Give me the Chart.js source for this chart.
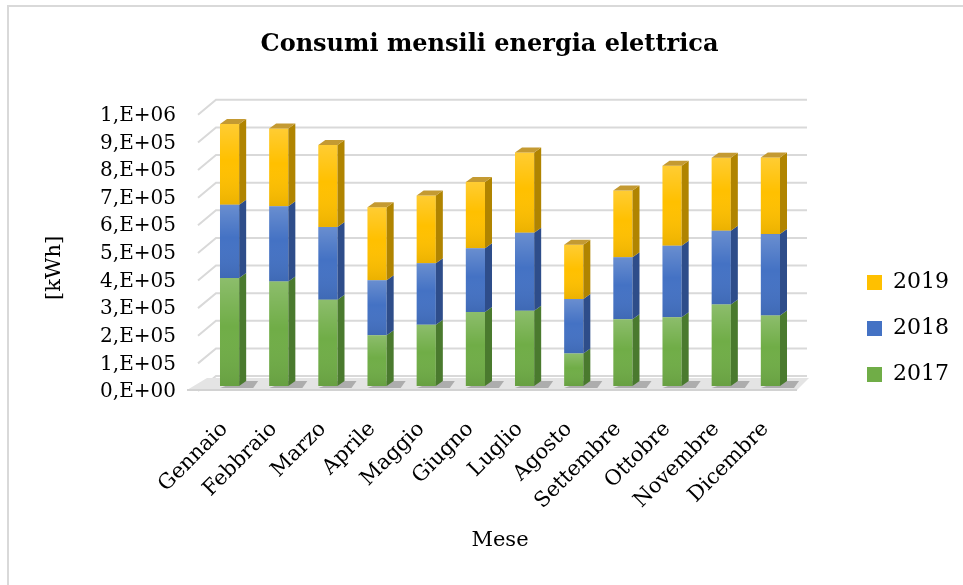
<!DOCTYPE html>
<html>
<head>
<meta charset="utf-8">
<script src="https://cdn.jsdelivr.net/npm/chart.js@4"></script>
<style>
  body { margin: 0; background: #fff; }
  canvas { display: block; }
</style>
</head>
<body>
<canvas id="chart" width="963" height="585"></canvas>
<script>
const mesi = ["Gennaio", "Febbraio", "Marzo", "Aprile", "Maggio", "Giugno",
  "Luglio", "Agosto", "Settembre", "Ottobre", "Novembre", "Dicembre"];

const kwh2017 = [391000, 378000, 312000, 184000, 222000, 268000, 272000, 118000, 242000, 249000, 295000, 255000];
const kwh2018 = [265000, 273000, 264000, 199000, 222000, 231000, 283000, 197000, 224000, 259000, 267000, 295000];
const kwh2019 = [293000, 281000, 297000, 264000, 246000, 240000, 290000, 196000, 242000, 289000, 264000, 277000];

const yTickLabels = ["0,E+00", "1,E+05", "2,E+05", "3,E+05", "4,E+05", "5,E+05",
  "6,E+05", "7,E+05", "8,E+05", "9,E+05", "1,E+06"];

const serif = "'DejaVu Serif', serif";
const DX = 7, DY = -5;

const sideColors = ["#4a7a2e", "#2e4d8a", "#b08400"];
const topColor = "#c49a32";

// back wall, left wall and floor, like the excel 3d look
const wallPlugin = {
  id: "wall",
  beforeDatasetsDraw(chart) {
    const ctx = chart.ctx;
    const y = chart.scales.y;
    const { left, right, bottom } = chart.chartArea;
    ctx.save();
    ctx.strokeStyle = "#d9d9d9";
    ctx.lineWidth = 2;
    y.ticks.forEach(t => {
      const py = y.getPixelForValue(t.value);
      ctx.beginPath();
      ctx.moveTo(left - 7, py + 5);
      ctx.lineTo(left + 11, py - 10);
      ctx.lineTo(right + 12, py - 10);
      ctx.stroke();
    });
    // floor
    ctx.fillStyle = "#e4e4e4";
    ctx.beginPath();
    ctx.moveTo(left - 18, bottom + 4);
    ctx.lineTo(right + 2, bottom + 4);
    ctx.lineTo(right + 14, bottom - 8);
    ctx.lineTo(left + 2, bottom - 8);
    ctx.closePath();
    ctx.fill();
    ctx.strokeStyle = "#d2d2d2";
    ctx.lineWidth = 2;
    ctx.beginPath();
    ctx.moveTo(left - 18, bottom + 4);
    ctx.lineTo(right + 2, bottom + 4);
    ctx.stroke();
    // shadows under the bars
    const meta = chart.getDatasetMeta(0);
    ctx.fillStyle = "rgba(90,90,90,0.4)";
    meta.data.forEach(bar => {
      const r = bar.x + bar.width / 2;
      ctx.beginPath();
      ctx.moveTo(bar.x - bar.width / 2, bar.base + 2);
      ctx.lineTo(r + 14, bar.base + 2);
      ctx.lineTo(r + DX + 12, bar.base - 5);
      ctx.lineTo(r, bar.base - 5);
      ctx.closePath();
      ctx.fill();
    });
    ctx.restore();
  },
  afterDatasetsDraw(chart) {
    const ctx = chart.ctx;
    const n = chart.data.datasets.length;
    ctx.save();
    chart.data.datasets.forEach((ds, di) => {
      const meta = chart.getDatasetMeta(di);
      meta.data.forEach(bar => {
        const l = bar.x - bar.width / 2, r = bar.x + bar.width / 2;
        const top = Math.min(bar.y, bar.base), bot = Math.max(bar.y, bar.base);
        // soft shading on the front face
        const g = ctx.createLinearGradient(0, top, 0, bot);
        g.addColorStop(0, "rgba(255,255,255,0.2)");
        g.addColorStop(0.45, "rgba(255,255,255,0)");
        g.addColorStop(1, "rgba(0,0,0,0.08)");
        ctx.fillStyle = g;
        ctx.fillRect(l, top, r - l, bot - top);
        // side face
        ctx.fillStyle = sideColors[di];
        ctx.beginPath();
        ctx.moveTo(r, top);
        ctx.lineTo(r + DX, top + DY);
        ctx.lineTo(r + DX, bot + DY);
        ctx.lineTo(r, bot);
        ctx.closePath();
        ctx.fill();
        if (di === n - 1) {
          ctx.fillStyle = topColor;
          ctx.beginPath();
          ctx.moveTo(l, top);
          ctx.lineTo(l + DX, top + DY);
          ctx.lineTo(r + DX, top + DY);
          ctx.lineTo(r, top);
          ctx.closePath();
          ctx.fill();
        }
      });
    });
    ctx.restore();
  },
  afterDraw(chart) {
    const ctx = chart.ctx;
    ctx.save();
    ctx.strokeStyle = "#d9d9d9";
    ctx.lineWidth = 2;
    ctx.beginPath();
    ctx.moveTo(8, 585);
    ctx.lineTo(8, 6);
    ctx.lineTo(963, 6);
    ctx.stroke();
    ctx.restore();
  }
};

new Chart(document.getElementById("chart"), {
  type: "bar",
  data: {
    labels: mesi,
    datasets: [
      { label: "2017", data: kwh2017, backgroundColor: "#70ad47" },
      { label: "2018", data: kwh2018, backgroundColor: "#4472c4" },
      { label: "2019", data: kwh2019, backgroundColor: "#ffc000" },
    ],
  },
  options: {
    responsive: false,
    animation: false,
    devicePixelRatio: 1,
    layout: { padding: { left: 20, right: 4, top: 0, bottom: 20 } },
    datasets: { bar: { categoryPercentage: 1, barPercentage: 0.39 } },
    scales: {
      x: {
        stacked: true,
        grid: { display: false, drawTicks: false },
        border: { display: false },
        ticks: {
          autoSkip: false, maxRotation: 45, minRotation: 45,
          padding: 31, labelOffset: -5, color: "#000",
          font: { family: serif, size: 21 },
        },
        title: {
          display: true, text: "Mese", color: "#000",
          font: { family: serif, size: 21 },
          padding: { top: 0, bottom: 12 },
        },
        afterFit(s) { s.height = 179; },
      },
      y: {
        stacked: true,
        min: 0, max: 1000000,
        grid: { display: false, drawTicks: false },
        border: { display: false },
        ticks: {
          stepSize: 100000, padding: 29, color: "#000", labelOffset: 6,
          font: { family: serif, size: 20 },
          callback: (v, i) => yTickLabels[i],
        },
        title: {
          display: true, text: "[kWh]      ", color: "#000",
          font: { family: serif, size: 21 },
          padding: { top: 22, bottom: 0 },
        },
        afterFit(s) { s.width = 185; },
      },
      gap: {
        type: "linear", position: "right", min: 0, max: 1,
        grid: { display: false }, border: { display: false },
        ticks: { display: false },
        afterFit(s) { s.width = Math.max(0, 963 - 4 - s.chart.legend.width - 795); },
      },
    },
    plugins: {
      title: {
        display: true, text: "Consumi mensili energia elettrica", color: "#000",
        font: { family: serif, size: 24, weight: "bold" },
        padding: { top: 30, bottom: 51 },
      },
      legend: {
        position: "right",
        reverse: true,
        title: { display: true, text: " ", font: { size: 10 }, padding: 40 },
        labels: {
          boxWidth: 15, boxHeight: 15, padding: 24, color: "#000",
          font: { family: serif, size: 22 },
        },
      },
      tooltip: { enabled: false },
    },
  },
  plugins: [wallPlugin],
});
</script>
</body>
</html>
